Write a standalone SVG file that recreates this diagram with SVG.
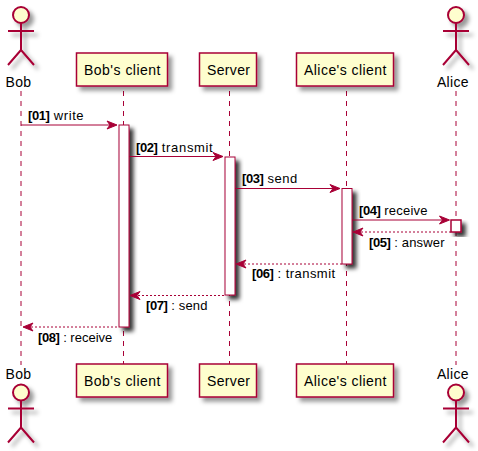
<svg xmlns="http://www.w3.org/2000/svg" width="478" height="451" viewBox="0 0 478 451">
<style>
.life{fill:none;stroke:#A80036;stroke-width:1;stroke-dasharray:5 5}
.box{fill:#FEFECE;stroke:#A80036;stroke-width:1.500}
.act{fill:#FFFFFF;stroke:#A80036;stroke-width:1}
.msg{fill:none;stroke:#A80036;stroke-width:1}
.dash{stroke-dasharray:2 2}
.head{fill:#A80036;stroke:#A80036;stroke-width:1}
.actor{fill:none;stroke:#A80036;stroke-width:2}
.head-c{fill:#FEFECE;stroke:#A80036;stroke-width:2}
text{font-family:"Liberation Sans",Arial,sans-serif;fill:#000000}
.n{font-size:14px}
.m{font-size:13px;letter-spacing:0.45px}
.b{font-weight:bold;letter-spacing:-0.4px}
</style>
<defs>
<filter id="sh" x="-30%" y="-30%" width="170%" height="170%">
<feGaussianBlur in="SourceAlpha" stdDeviation="2"/>
<feColorMatrix type="matrix" values="0 0 0 0 0 0 0 0 0 0 0 0 0 0 0 0 0 0 0.4 0"/>
<feOffset dx="4" dy="4" result="s"/>
<feBlend in="SourceGraphic" in2="s" mode="normal"/>
</filter>
<filter id="sh2" x="-60%" y="-30%" width="250%" height="170%">
<feGaussianBlur in="SourceAlpha" stdDeviation="2"/>
<feColorMatrix type="matrix" values="0 0 0 0 0 0 0 0 0 0 0 0 0 0 0 0 0 0 0.8 0"/>
<feOffset dx="4" dy="4" result="s"/>
<feBlend in="SourceGraphic" in2="s" mode="normal"/>
</filter>
<g id="stick">
<circle class="head-c" cx="0" cy="15" r="8"/>
<path class="actor" d="M0 23V50M-13 31H13M0 50L-13 65M0 50L13 65"/>
</g>
</defs>
<g id="lifelines">
<path class="life" d="M21 91V365"/>
<path class="life" d="M123.500 91V364"/>
<path class="life" d="M229.500 91V364"/>
<path class="life" d="M346.500 91V364"/>
<path class="life" d="M456 91V365"/>
</g>
<g id="activations">
<rect class="act" filter="url(#sh2)" x="119" y="125" width="10" height="202"/>
<rect class="act" filter="url(#sh2)" x="225" y="157" width="10" height="138"/>
<rect class="act" filter="url(#sh2)" x="342" y="188.500" width="10" height="75.500"/>
<rect class="act" filter="url(#sh2)" x="451" y="220" width="10" height="12" style="stroke-width:1.500"/>
</g>
<g id="connectors">
<path class="msg" d="M21 125H113"/>
<path class="head" d="M107 121L117 125L107 129L110 125Z"/>
<path class="msg" d="M129 156.500H219"/>
<path class="head" d="M213 152.500L223 156.500L213 160.500L216 156.500Z"/>
<path class="msg" d="M235 188.500H336"/>
<path class="head" d="M330 184.500L340 188.500L330 192.500L333 188.500Z"/>
<path class="msg" d="M352 220H445"/>
<path class="head" d="M439.500 216L449.500 220L439.500 224L442.500 220Z"/>
<path class="msg dash" d="M357 232H451"/>
<path class="head" d="M363 228L353 232L363 236L360 232Z"/>
<path class="msg dash" d="M240 264H342"/>
<path class="head" d="M246 260L236 264L246 268L243 264Z"/>
<path class="msg dash" d="M134 295.500H225"/>
<path class="head" d="M140 291.500L130 295.500L140 299.500L137 295.500Z"/>
<path class="msg dash" d="M27 327H119"/>
<path class="head" d="M33 323L23 327L33 331L30 327Z"/>
</g>
<g id="labels">
<text class="m" x="28" y="119.500" style="letter-spacing:0.6px"><tspan class="b">[01]</tspan> write</text>
<text class="m" x="136" y="151.500" style="letter-spacing:0.67px"><tspan class="b">[02]</tspan> transmit</text>
<text class="m" x="242" y="182.500"><tspan class="b">[03]</tspan> send</text>
<text class="m" x="359" y="214.500" style="letter-spacing:0.2px"><tspan class="b">[04]</tspan> receive</text>
<text class="m" x="369" y="247" style="letter-spacing:0.15px"><tspan class="b">[05]</tspan> : answer</text>
<text class="m" x="252" y="278"><tspan class="b">[06]</tspan> : transmit</text>
<text class="m" x="146" y="310" style="letter-spacing:0.15px"><tspan class="b">[07]</tspan> : send</text>
<text class="m" x="38" y="342" style="letter-spacing:0"><tspan class="b">[08]</tspan> : receive</text>
</g>
<g id="bob-top"><use href="#stick" x="21" y="0" filter="url(#sh)"/><text class="n" x="5.500" y="87" textLength="25.500">Bob</text></g>
<g id="bobs-client-top"><rect class="box" x="76.500" y="53" width="91" height="33" filter="url(#sh)"/><text class="n" x="84" y="75" textLength="76.500">Bob's client</text></g>
<g id="server-top"><rect class="box" x="199.500" y="53" width="57" height="33" filter="url(#sh)"/><text class="n" x="207" y="75" textLength="43">Server</text></g>
<g id="alices-client-top"><rect class="box" x="296.500" y="53" width="97" height="33" filter="url(#sh)"/><text class="n" x="304" y="75" textLength="82.500">Alice's client</text></g>
<g id="alice-top"><use href="#stick" x="456" y="0" filter="url(#sh)"/><text class="n" x="437" y="87" textLength="31.500">Alice</text></g>
<g id="bob-bottom"><text class="n" x="5.500" y="379" textLength="25.500">Bob</text><use href="#stick" x="21" y="377.500" filter="url(#sh)"/></g>
<g id="bobs-client-bottom"><rect class="box" x="76.500" y="364" width="91" height="33" filter="url(#sh)"/><text class="n" x="84" y="386" textLength="76.500">Bob's client</text></g>
<g id="server-bottom"><rect class="box" x="199.500" y="364" width="57" height="33" filter="url(#sh)"/><text class="n" x="207" y="386" textLength="43">Server</text></g>
<g id="alices-client-bottom"><rect class="box" x="296.500" y="364" width="97" height="33" filter="url(#sh)"/><text class="n" x="304" y="386" textLength="82.500">Alice's client</text></g>
<g id="alice-bottom"><text class="n" x="437" y="379" textLength="31.500">Alice</text><use href="#stick" x="456" y="377.500" filter="url(#sh)"/></g>
</svg>
